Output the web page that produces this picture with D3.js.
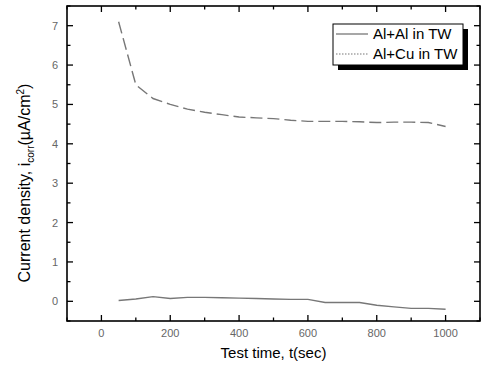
<!DOCTYPE html>
<html>
<head>
<meta charset="utf-8">
<script src="https://cdn.jsdelivr.net/npm/d3@7"></script>
<style>
  body { margin: 0; background: #fff; }
  svg { display: block; font-family: "Liberation Sans", Arial, sans-serif; }
</style>
</head>
<body>
<svg class="chartsvg"></svg>
<script>
// test time (sec)
const times = [50, 100, 150, 200, 250, 300, 350, 400, 450, 500, 550, 600, 650, 700, 750, 800, 850, 900, 950, 1000];
// Al+Al in TW
const alAl = [0.02, 0.06, 0.12, 0.07, 0.10, 0.10, 0.09, 0.08, 0.07, 0.06, 0.05, 0.05, -0.03, -0.03, -0.03, -0.10, -0.14, -0.18, -0.18, -0.20];
// Al+Cu in TW
const alCu = [7.10, 5.50, 5.15, 5.00, 4.88, 4.80, 4.74, 4.68, 4.66, 4.64, 4.60, 4.57, 4.57, 4.57, 4.56, 4.54, 4.55, 4.55, 4.54, 4.44];
const seriesNames = ['Al+Al in TW', 'Al+Cu in TW'];
const xTicks = [0, 200, 400, 600, 800, 1000];
const yTicks = [0, 1, 2, 3, 4, 5, 6, 7];

const dims = { width: 483, height: 366 };
const margin = { top: 6, right: 3, bottom: 45, left: 67 };
const w = dims.width - margin.left - margin.right;
const h = dims.height - margin.top - margin.bottom;

const svg = d3.select('.chartsvg')
  .attr('width', dims.width)
  .attr('height', dims.height);

const graph = svg.append('g')
  .attr('transform', `translate(${margin.left}, ${margin.top})`);

const x = d3.scaleLinear().domain([-100, 1100]).range([0, w]);
const y = d3.scaleLinear().domain([-0.5, 7.5]).range([h, 0]);

// ticks, all pointing inward, on all four sides
const xMinor = d3.range(-100, 1101, 100).filter(v => v % 200 !== 0);
const yMinor = d3.range(-0.5, 7.6, 1);

const tickG = graph.append('g').attr('stroke', '#000').attr('stroke-width', 1.3);
xTicks.forEach(v => {
  tickG.append('line').attr('x1', x(v)).attr('x2', x(v)).attr('y1', h).attr('y2', h - 6);
  tickG.append('line').attr('x1', x(v)).attr('x2', x(v)).attr('y1', 0).attr('y2', 6);
});
xMinor.forEach(v => {
  tickG.append('line').attr('x1', x(v)).attr('x2', x(v)).attr('y1', h).attr('y2', h - 3.5);
  tickG.append('line').attr('x1', x(v)).attr('x2', x(v)).attr('y1', 0).attr('y2', 3.5);
});
yTicks.forEach(v => {
  tickG.append('line').attr('y1', y(v)).attr('y2', y(v)).attr('x1', 0).attr('x2', 6);
  tickG.append('line').attr('y1', y(v)).attr('y2', y(v)).attr('x1', w).attr('x2', w - 6);
});
yMinor.forEach(v => {
  tickG.append('line').attr('y1', y(v)).attr('y2', y(v)).attr('x1', 0).attr('x2', 3.5);
  tickG.append('line').attr('y1', y(v)).attr('y2', y(v)).attr('x1', w).attr('x2', w - 3.5);
});

// tick labels
graph.append('g').selectAll('text')
  .data(xTicks)
  .enter()
  .append('text')
  .attr('x', d => x(d))
  .attr('y', h + 16)
  .attr('text-anchor', 'middle')
  .attr('fill', '#666')
  .style('font-size', '11px')
  .text(d => d);

graph.append('g').selectAll('text')
  .data(yTicks)
  .enter()
  .append('text')
  .attr('x', -9)
  .attr('y', d => y(d) + 4)
  .attr('text-anchor', 'end')
  .attr('fill', '#666')
  .style('font-size', '11px')
  .text(d => d);

// lines
const line = d3.line()
  .x((d, i) => x(times[i]))
  .y(d => y(d));

graph.append('path')
  .attr('d', line(alAl))
  .attr('fill', 'none')
  .attr('stroke', '#777')
  .attr('stroke-width', 1.4);

graph.append('path')
  .attr('d', line(alCu))
  .attr('fill', 'none')
  .attr('stroke', '#777')
  .attr('stroke-width', 1.4)
  .attr('stroke-dasharray', '12,5');

// frame
graph.append('rect')
  .attr('width', w)
  .attr('height', h)
  .attr('fill', 'none')
  .attr('stroke', '#000')
  .attr('stroke-width', 1.6);

// legend
const legendGroup = svg.append('g')
  .attr('transform', 'translate(333, 24)');
legendGroup.append('rect')
  .attr('x', 5).attr('y', 5)
  .attr('width', 130).attr('height', 41)
  .attr('fill', '#000');
legendGroup.append('rect')
  .attr('width', 130).attr('height', 41)
  .attr('fill', '#fff')
  .attr('stroke', '#000')
  .attr('stroke-width', 1);

seriesNames.forEach((name, i) => {
  const ly = 10 + i * 20;
  legendGroup.append('line')
    .attr('x1', 3).attr('x2', 35)
    .attr('y1', ly).attr('y2', ly)
    .attr('stroke', '#777')
    .attr('stroke-width', i === 0 ? 1.3 : 1.2)
    .attr('stroke-dasharray', i === 0 ? null : '1.5,1.5');
  legendGroup.append('text')
    .attr('x', 40)
    .attr('y', ly + 5)
    .attr('fill', '#000')
    .style('font-size', '15px')
    .text(name);
});

// axis titles
svg.append('text')
  .attr('x', margin.left + x(500))
  .attr('y', 358)
  .attr('text-anchor', 'middle')
  .style('font-size', '15px')
  .text('Test time, t(sec)');

const yt = svg.append('text')
  .attr('transform', 'translate(30, 183) rotate(-90)')
  .attr('text-anchor', 'middle')
  .style('font-size', '16px');
yt.append('tspan').text('Current density, i');
yt.append('tspan').attr('dy', 4).style('font-size', '10px').text('corr');
yt.append('tspan').attr('dy', -4).text('(\u00b5A/cm');
yt.append('tspan').attr('dy', -6).style('font-size', '10px').text('2');
yt.append('tspan').attr('dy', 6).text(')');
</script>
</body>
</html>
